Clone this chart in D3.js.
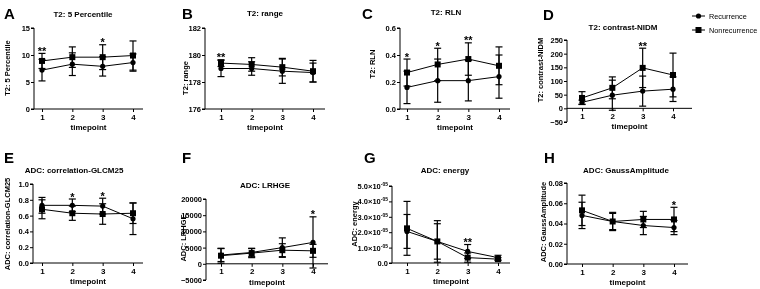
<!DOCTYPE html>
<html>
<head>
<meta charset="utf-8">
<script src="https://cdn.jsdelivr.net/npm/d3@7"></script>
<style>
  body { margin: 0; background: #fff; }
  svg { display: block; filter: grayscale(100%); }
  text { font-family: "Liberation Sans", Arial, sans-serif; fill: #000; }
</style>
</head>
<body>
<svg id="fig" width="760" height="289"></svg>
<script>
// timepoints on the x axis
const timepoints = [1, 2, 3, 4];

// T2: 5 Percentile
const p5Rec = [7.2, 8.3, 7.9, 8.6], p5RecErr = [2.0, 2.1, 1.8, 1.6];
const p5Non = [8.9, 9.6, 9.6, 9.9], p5NonErr = [1.4, 1.9, 2.3, 2.7];
const p5Stars = ["**", "", "*", ""];

// T2: range
const rangeRec = [179.0, 179.0, 178.8, 178.7], rangeRecErr = [0.6, 0.5, 0.9, 0.7];
const rangeNon = [179.4, 179.3, 179.1, 178.8], rangeNonErr = [0.25, 0.5, 0.65, 0.8];
const rangeStars = ["**", "", "", ""];

// T2: RLN
const rlnRec = [0.16, 0.21, 0.21, 0.24], rlnRecErr = [0.12, 0.16, 0.15, 0.16];
const rlnNon = [0.27, 0.33, 0.37, 0.32], rlnNonErr = [0.10, 0.12, 0.12, 0.14];
const rlnStars = ["*", "*", "**", ""];

// T2: contrast-NIDM
const nidmRec = [22, 48, 63, 70], nidmRecErr = [8, 55, 55, 45];
const nidmNon = [38, 75, 148, 122], nidmNonErr = [23, 40, 72, 80];
const nidmStars = ["", "", "**", ""];

// ADC: correlation-GLCM25
const glcmRec = [0.73, 0.73, 0.72, 0.56], glcmRecErr = [0.10, 0.08, 0.10, 0.20];
const glcmNon = [0.68, 0.63, 0.62, 0.63], glcmNonErr = [0.12, 0.09, 0.13, 0.13];
const glcmStars = ["", "*", "*", ""];

// ADC: LRHGE
const lrhgeRec = [2700, 3500, 5000, 6600], lrhgeRecErr = [2000, 1300, 3000, 7900];
const lrhgeNon = [2500, 3300, 4200, 4000], lrhgeNonErr = [2300, 1400, 2000, 2000];
const lrhgeStars = ["", "", "", "*"];

// ADC: energy
const energyRec = [2.05e-5, 1.4e-5, 0.75e-5, 0.35e-5], energyRecErr = [1.1e-5, 1.15e-5, 0.45e-5, 0.15e-5];
const energyNon = [2.25e-5, 1.4e-5, 0.35e-5, 0.25e-5], energyNonErr = [1.75e-5, 1.35e-5, 0.3e-5, 0.1e-5];
const energyStars = ["", "", "**", ""];

// ADC: GaussAmplitude
const gaussRec = [0.048, 0.042, 0.038, 0.036], gaussRecErr = [0.013, 0.008, 0.009, 0.007];
const gaussNon = [0.053, 0.042, 0.044, 0.044], gaussNonErr = [0.015, 0.009, 0.008, 0.012];
const gaussStars = ["", "", "", "*"];

const seriesNames = ["Recurrence", "Nonrecurrence"];

const panels = [
  { key: "A", title: "T2: 5 Percentile", ylab: "T2: 5 Percentile", rec: p5Rec, recErr: p5RecErr, non: p5Non, nonErr: p5NonErr, stars: p5Stars,
    domain: [0, 15], ticks: [0, 5, 10, 15], fmt: d3.format("d"),
    L: { ax: 34, top: 28, bot: 109, x1: 42, x4: 133, xEnd: 143, tx: 83, ty: 17, lx: 10, ly: 68, kx: 4, ky: 19 } },
  { key: "B", title: "T2: range", ylab: "T2: range", rec: rangeRec, recErr: rangeRecErr, non: rangeNon, nonErr: rangeNonErr, stars: rangeStars,
    domain: [176, 182], ticks: [176, 178, 180, 182], fmt: d3.format("d"),
    L: { ax: 205, top: 28, bot: 109, x1: 221, x4: 313, xEnd: 325, tx: 265, ty: 16, lx: 188, ly: 78, kx: 182, ky: 19 } },
  { key: "C", title: "T2: RLN", ylab: "T2: RLN", rec: rlnRec, recErr: rlnRecErr, non: rlnNon, nonErr: rlnNonErr, stars: rlnStars,
    domain: [0, 0.6], ticks: [0, 0.2, 0.4, 0.6], fmt: d3.format(".1f"),
    L: { ax: 400, top: 28, bot: 109, x1: 407, x4: 499, xEnd: 510, tx: 446, ty: 15, lx: 375, ly: 64, kx: 362, ky: 19 } },
  { key: "D", title: "T2: contrast-NIDM", ylab: "T2: contrast-NIDM", rec: nidmRec, recErr: nidmRecErr, non: nidmNon, nonErr: nidmNonErr, stars: nidmStars,
    domain: [-50, 250], ticks: [-50, 0, 50, 100, 150, 200, 250], fmt: d3.format("d"),
    L: { ax: 567, top: 40, bot: 122, x1: 582, x4: 673, xEnd: 692, tx: 623, ty: 30, lx: 543, ly: 70, kx: 543, ky: 20 } },
  { key: "E", title: "ADC: correlation-GLCM25", ylab: "ADC: correlation-GLCM25", rec: glcmRec, recErr: glcmRecErr, non: glcmNon, nonErr: glcmNonErr, stars: glcmStars,
    domain: [0, 1], ticks: [0, 0.2, 0.4, 0.6, 0.8, 1.0], fmt: d3.format(".1f"),
    L: { ax: 33, top: 184, bot: 263, x1: 42, x4: 133, xEnd: 143, tx: 74, ty: 173, lx: 10, ly: 224, kx: 4, ky: 163 } },
  { key: "F", title: "ADC: LRHGE", ylab: "ADC: LRHGE", rec: lrhgeRec, recErr: lrhgeRecErr, non: lrhgeNon, nonErr: lrhgeNonErr, stars: lrhgeStars,
    domain: [-5000, 20000], ticks: [-5000, 0, 5000, 10000, 15000, 20000], fmt: d3.format("d"),
    L: { ax: 206, top: 199, bot: 280, x1: 221, x4: 313, xEnd: 328, tx: 265, ty: 188, lx: 186, ly: 238, kx: 182, ky: 163 } },
  { key: "G", title: "ADC: energy", ylab: "ADC: energy", rec: energyRec, recErr: energyRecErr, non: energyNon, nonErr: energyNonErr, stars: energyStars,
    domain: [0, 5e-5], ticks: [0, 1e-5, 2e-5, 3e-5, 4e-5, 5e-5], fmt: d => d === 0 ? "0.0" : (d * 1e5).toFixed(1), sci: true,
    L: { ax: 392, top: 186, bot: 263, x1: 407, x4: 498, xEnd: 510, tx: 445, ty: 173, lx: 357, ly: 224, kx: 364, ky: 163 } },
  { key: "H", title: "ADC: GaussAmplitude", ylab: "ADC: GaussAmplitude", rec: gaussRec, recErr: gaussRecErr, non: gaussNon, nonErr: gaussNonErr, stars: gaussStars,
    domain: [0, 0.08], ticks: [0, 0.02, 0.04, 0.06, 0.08], fmt: d3.format(".2f"),
    L: { ax: 567, top: 183, bot: 264, x1: 582, x4: 674, xEnd: 688, tx: 626, ty: 173, lx: 546, ly: 222, kx: 544, ky: 163 } }
];

const svg = d3.select("#fig");

panels.forEach(p => drawPanel(p));
drawLegend();

function drawPanel(p) {
  const L = p.L;
  const g = svg.append("g");
  const x = d3.scaleLinear().domain([1, 4]).range([L.x1, L.x4]);
  const y = d3.scaleLinear().domain(p.domain).range([L.bot, L.top]);
  const axisY = p.domain[0] < 0 ? y(0) : L.bot;

  // panel letter and title
  g.append("text").attr("x", L.kx).attr("y", L.ky).style("font-size", "15px").style("font-weight", "bold").text(p.key);
  g.append("text").attr("x", L.tx).attr("y", L.ty).attr("text-anchor", "middle").style("font-size", "8px").style("font-weight", "bold").text(p.title);

  // y axis
  const ya = g.append("g").attr("transform", `translate(${L.ax},0)`)
    .call(d3.axisLeft(y).tickValues(p.ticks).tickSize(3).tickPadding(1).tickFormat(p.fmt));
  ya.select(".domain").attr("d", `M-3,${L.top}H0V${L.bot}H-3`).attr("stroke-width", 1);
  ya.selectAll("text").style("font-size", "7.5px").style("font-weight", "bold").style("font-family", "Liberation Sans, Arial, sans-serif");
  if (p.sci) {
    // mantissa x 10 with a raised exponent, as in the original
    ya.selectAll(".tick text").filter(d => d !== 0).each(function(d) {
      const t = d3.select(this);
      const m = t.text();
      t.text(null);
      t.append("tspan").text(m + "×10");
      t.append("tspan").attr("dy", -3).style("font-size", "5px").text("-05");
    });
  }

  // x axis
  const xa = g.append("g").attr("transform", `translate(0,${axisY})`)
    .call(d3.axisBottom(x).tickValues(timepoints).tickSize(3).tickPadding(2).tickFormat(d3.format("d")));
  xa.select(".domain").attr("d", `M${L.ax},0H${L.xEnd}`).attr("stroke-width", 1);
  xa.selectAll("text").style("font-size", "8px").style("font-weight", "bold").style("font-family", "Liberation Sans, Arial, sans-serif");

  g.append("text").attr("x", (L.ax + L.xEnd) / 2).attr("y", axisY + 21).attr("text-anchor", "middle")
    .style("font-size", "8px").style("font-weight", "bold").text("timepoint");

  g.append("text").attr("transform", `translate(${L.lx},${L.ly}) rotate(-90)`).attr("text-anchor", "middle")
    .style("font-size", "7.5px").style("font-weight", "bold").text(p.ylab);

  const series = [
    { vals: p.rec, errs: p.recErr, shape: "circle" },
    { vals: p.non, errs: p.nonErr, shape: "square" }
  ];
  const line = d3.line().x((d, i) => x(timepoints[i])).y(d => y(d));

  series.forEach(s => {
    // error bars with caps
    const eb = g.append("g").selectAll("g").data(s.vals).join("g");
    eb.append("line").attr("x1", (d, i) => x(timepoints[i])).attr("x2", (d, i) => x(timepoints[i]))
      .attr("y1", (d, i) => y(d - s.errs[i])).attr("y2", (d, i) => y(d + s.errs[i])).attr("stroke", "#000").attr("stroke-width", 1.2);
    [-1, 1].forEach(sign => {
      eb.append("line").attr("x1", (d, i) => x(timepoints[i]) - 3.5).attr("x2", (d, i) => x(timepoints[i]) + 3.5)
        .attr("y1", (d, i) => y(d + sign * s.errs[i])).attr("y2", (d, i) => y(d + sign * s.errs[i]))
        .attr("stroke", "#000").attr("stroke-width", 1.2);
    });
    g.append("path").datum(s.vals).attr("d", line).attr("fill", "none").attr("stroke", "#000").attr("stroke-width", 1);
    if (s.shape === "circle") {
      g.append("g").selectAll("circle").data(s.vals).join("circle")
        .attr("cx", (d, i) => x(timepoints[i])).attr("cy", d => y(d)).attr("r", 2.6).attr("fill", "#000");
    } else {
      g.append("g").selectAll("rect").data(s.vals).join("rect")
        .attr("x", (d, i) => x(timepoints[i]) - 3).attr("y", d => y(d) - 3).attr("width", 6).attr("height", 6).attr("fill", "#000");
    }
  });

  // significance stars above the highest cap
  g.append("g").selectAll("text").data(p.stars).join("text")
    .attr("x", (d, i) => x(timepoints[i])).attr("text-anchor", "middle")
    .attr("y", (d, i) => y(Math.max(p.rec[i] + p.recErr[i], p.non[i] + p.nonErr[i])) + 1.5)
    .attr("fill", "#000").style("font-size", "11px").style("font-weight", "bold").text(d => d);
}

function drawLegend() {
  const lg = svg.append("g").attr("transform", "translate(692,0)");
  const rows = lg.selectAll("g").data(seriesNames).join("g").attr("transform", (d, i) => `translate(0,${16 + i * 14})`);
  rows.append("line").attr("x1", 0).attr("x2", 13).attr("stroke", "#000").attr("stroke-width", 1);
  rows.filter((d, i) => i === 0).append("circle").attr("cx", 6.5).attr("r", 2.6).attr("fill", "#000");
  rows.filter((d, i) => i === 1).append("rect").attr("x", 3.5).attr("y", -3).attr("width", 6).attr("height", 6).attr("fill", "#000");
  rows.append("text").attr("x", 17).attr("y", 3).style("font-size", "7.3px").text(d => d);
}
</script>
</body>
</html>
